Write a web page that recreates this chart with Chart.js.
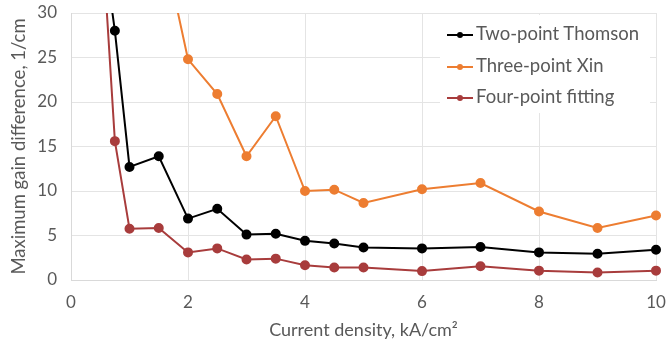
<!DOCTYPE html>
<html>
<head>
<meta charset="utf-8">
<script src="https://cdn.jsdelivr.net/npm/chart.js@4"></script>
<style>
    html, body { margin: 0; padding: 0; background: #fff; }
    #wrap { position: relative; width: 668px; height: 345px; }
    #legend {
        position: absolute; left: 440px; top: 15px; width: 210px; height: 98px;
        background: #fff; font-family: Lato, sans-serif; font-size: 18.5px; color: #595959;
    }
    .item { position: absolute; left: 7px; height: 22px; line-height: 22px; white-space: nowrap; }
    .item canvas { vertical-align: middle; margin-right: 3px; }
</style>
</head>
<body>
<div id="wrap">
    <canvas id="gainChart" width="668" height="345"></canvas>
    <div id="legend"></div>
</div>
<script>
// Current density, kA/cm2
const density = [0.5, 0.75, 1, 1.5, 2, 2.5, 3, 3.5, 4, 4.5, 5, 6, 7, 8, 9, 10];
// Maximum gain difference, 1/cm
const twoPointThomson = [40, 28, 12.7, 13.9, 6.9, 8.0, 5.1, 5.2, 4.4, 4.1, 3.65, 3.55, 3.7, 3.1, 2.95, 3.4];
const threePointXin = [null, null, null, 40, 24.8, 20.9, 13.9, 18.4, 10.0, 10.15, 8.65, 10.2, 10.9, 7.7, 5.85, 7.25];
const fourPointFitting = [42, 15.6, 5.75, 5.85, 3.1, 3.55, 2.3, 2.4, 1.65, 1.4, 1.4, 1.0, 1.55, 1.05, 0.85, 1.05];

const xTicks = [0, 2, 4, 6, 8, 10];
const yTicks = [0, 5, 10, 15, 20, 25, 30];

const series = [
    { label: 'Two-point Thomson', values: twoPointThomson, color: '#000000' },
    { label: 'Three-point Xin', values: threePointXin, color: '#ED7D31' },
    { label: 'Four-point fitting', values: fourPointFitting, color: '#A83C3C' }
];

const textColor = '#595959';
const gridColor = '#e4e4e4';

const datasets = series.map(s => ({
    label: s.label,
    data: density.map((x, i) => ({ x, y: s.values[i] })),
    borderColor: s.color,
    backgroundColor: s.color,
    borderWidth: 2,
    pointRadius: 4,
    pointHoverRadius: 4,
    showLine: true,
    tension: 0,
    clip: { left: 0, top: 0, right: 6, bottom: 6 }
}));

new Chart(document.getElementById('gainChart'), {
    type: 'scatter',
    data: { datasets },
    options: {
        responsive: false,
        animation: false,
        layout: { padding: { left: 0, right: 12, top: 13, bottom: 0 } },
        plugins: { legend: { display: false }, tooltip: { enabled: false } },
        scales: {
            x: {
                type: 'linear', min: 0, max: 10,
                afterFit: s => { s.height = 65; s.paddingLeft = 0; s.paddingRight = 0; },
                afterBuildTicks: s => { s.ticks = xTicks.map(v => ({ value: v })); },
                grid: { color: gridColor, drawTicks: false },
                border: { color: '#d9d9d9' },
                ticks: { color: textColor, padding: 12, font: { family: 'Lato', size: 17 } },
                title: {
                    display: true, text: 'Current density, kA/cm\u00B2', color: textColor,
                    font: { family: 'Lato', size: 18 }, padding: { top: 0, bottom: 4 }
                }
            },
            y: {
                min: 0, max: 30,
                afterFit: s => { s.width = 71; s.paddingTop = 0; s.paddingBottom = 0; },
                afterBuildTicks: s => { s.ticks = yTicks.map(v => ({ value: v })); },
                grid: { color: gridColor, drawTicks: false },
                border: { color: '#d9d9d9' },
                ticks: { color: textColor, padding: 14, font: { family: 'Lato', size: 17 } },
                title: {
                    display: true, text: 'Maximum gain difference, 1/cm', color: textColor,
                    font: { family: 'Lato', size: 18.5 }, padding: { top: 8, bottom: 0 }
                }
            }
        }
    }
});

// legend box inside the plot, top right
const legend = document.getElementById('legend');
const rowTops = [7, 39, 70];
series.forEach((s, i) => {
    const item = document.createElement('div');
    item.className = 'item';
    item.style.top = rowTops[i] + 'px';
    const icon = document.createElement('canvas');
    icon.width = 26; icon.height = 10;
    const c = icon.getContext('2d');
    c.strokeStyle = s.color; c.fillStyle = s.color; c.lineWidth = 2;
    c.beginPath(); c.moveTo(0, 5); c.lineTo(26, 5); c.stroke();
    c.beginPath(); c.arc(13, 5, 3, 0, Math.PI * 2); c.fill();
    item.appendChild(icon);
    item.appendChild(document.createTextNode(s.label));
    legend.appendChild(item);
});
</script>
</body>
</html>
